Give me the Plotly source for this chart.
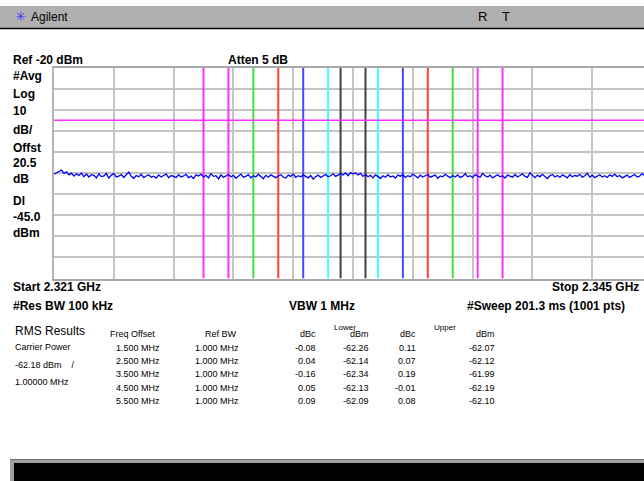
import plotly.graph_objects as go

W, H = 644, 481

# ---------------- data ----------------
start_mhz = 2321.0
stop_mhz = 2345.0
ref_level = -20.0
db_per_div = 10.0
display_line = -45.0
center_mhz = 2333.0

# trace (dBm), 241 points from start to stop
trace_dbm = [
    -70.6, -70.0, -69.4, -68.6, -70.2, -69.5, -70.9, -70.1, -71.5, -70.4,
    -71.2, -70.0, -71.8, -70.5, -71.9, -70.8, -71.1, -72.3, -70.4, -71.7,
    -71.4, -70.2, -72.4, -71.0, -70.3, -71.9, -71.5, -70.7, -72.1, -70.9,
    -69.6, -71.6, -72.5, -71.2, -71.8, -70.6, -72.2, -71.4, -70.8, -72.0,
    -71.5, -72.4, -70.9, -71.9, -71.3, -70.4, -72.3, -71.2, -71.6, -72.1,
    -70.8, -71.9, -71.4, -70.6, -72.2, -71.5, -72.6, -70.9, -71.4, -70.5,
    -71.9, -71.1, -72.3, -70.3, -71.6, -71.3, -72.8, -70.9, -72.1, -71.5,
    -70.7, -71.8, -71.1, -72.5, -71.4, -70.5, -72.0, -71.6, -70.8, -72.3,
    -71.3, -71.9, -70.6, -71.5, -72.7, -71.1, -72.0, -70.9, -71.6, -72.2,
    -71.4, -70.8, -71.9, -72.4, -71.0, -71.6, -70.5, -72.1, -71.3, -71.8,
    -70.9, -71.5, -72.3, -71.2, -72.9, -71.8, -71.0, -72.1, -71.5, -70.7,
    -71.8, -71.3, -70.4, -71.6, -71.0, -70.2, -70.9, -70.0, -71.3, -69.8,
    -70.5, -69.9, -70.9, -70.2, -71.6, -70.6, -71.8, -71.1, -72.3, -70.9,
    -71.6, -72.6, -71.3, -72.0, -70.8, -71.9, -71.4, -72.4, -71.0, -71.5,
    -70.8, -72.1, -71.3, -71.8, -70.5, -71.6, -72.3, -71.0, -71.9, -71.3,
    -70.7, -72.0, -71.5, -71.0, -72.5, -71.4, -71.8, -70.6, -71.5, -72.2,
    -71.2, -71.9, -70.9, -72.1, -71.6, -70.3, -71.8, -71.3, -72.2, -70.8,
    -71.5, -72.0, -70.2, -71.3, -71.9, -71.0, -72.3, -71.6, -70.8, -71.8,
    -71.3, -72.4, -71.0, -71.5, -72.0, -70.7, -71.9, -71.2, -70.4, -71.6,
    -72.1, -69.9, -71.3, -72.2, -71.0, -71.8, -70.6, -71.4, -72.6, -71.3,
    -70.7, -71.9, -71.2, -72.1, -70.9, -71.5, -72.3, -70.8, -71.8, -71.2,
    -71.5, -70.6, -72.0, -71.3, -70.1, -71.9, -71.0, -72.2, -71.4, -70.8,
    -71.9, -71.3, -72.1, -70.9, -71.6, -70.5, -71.8, -71.2, -72.3, -71.6,
    -71.0, -72.1, -71.4, -70.7, -71.9, -71.5, -70.3, -71.4, -70.9, -70.2,
    -70.6,
]

# marker edges (MHz offset from centre) and their colours
edge_offsets = [0.5, 1.0, 2.0, 3.0, 4.0, 5.0, 6.0]
edge_colors = ["#404040", "#40ffff", "#4848ff", "#ff4040", "#40e040", "#ff30ff", "#ff30ff"]

# RMS results table
freq_offsets = ["1.500 MHz", "2.500 MHz", "3.500 MHz", "4.500 MHz", "5.500 MHz"]
ref_bw = ["1.000 MHz", "1.000 MHz", "1.000 MHz", "1.000 MHz", "1.000 MHz"]
lower_dbc = [-0.08, 0.04, -0.16, 0.05, 0.09]
lower_dbm = [-62.26, -62.14, -62.34, -62.13, -62.09]
upper_dbc = [0.11, 0.07, 0.19, -0.01, 0.08]
upper_dbm = [-62.07, -62.12, -61.99, -62.19, -62.10]

left_labels = ["#Avg", "Log", "10", "dB/", "Offst", "20.5", "dB", "Dl", "-45.0", "dBm"]

# ---------------- geometry helpers ----------------
def px(x):
    return x / W

def py(y):
    return 1 - y / H

plot_left, plot_top, plot_bottom = 54, 67.5, 278.5
px_per_mhz = 24.92
x_max = start_mhz + (W - plot_left) / px_per_mhz
y_min = ref_level - 10 * db_per_div

n = len(trace_dbm)
step = (stop_mhz - start_mhz) / (n - 1)
freqs = [start_mhz + i * step for i in range(n)]

FONT = "Arial, Liberation Sans, sans-serif"

fig = go.Figure()

# marker lines (drawn below the trace)
for off, col in zip(edge_offsets, edge_colors):
    for sgn in (-1, 1):
        f = center_mhz + sgn * off
        fig.add_trace(go.Scatter(x=[f, f], y=[y_min, ref_level], mode="lines",
                                 line=dict(color=col, width=2), hoverinfo="skip",
                                 showlegend=False))

# display line
fig.add_trace(go.Scatter(x=[start_mhz, x_max], y=[display_line, display_line], mode="lines",
                         line=dict(color="#ff30ff", width=1.5), hoverinfo="skip", showlegend=False))

# trace
fig.add_trace(go.Scatter(x=freqs, y=trace_dbm, mode="lines",
                         line=dict(color="#0000ff", width=1.3), showlegend=False))

shapes = []
# header bar
shapes.append(dict(type="rect", xref="paper", yref="paper", x0=0, x1=1, y0=py(28), y1=py(6),
                   fillcolor="#b0b0b0", line=dict(width=0), layer="below"))
shapes.append(dict(type="line", xref="paper", yref="paper", x0=0, x1=1, y0=py(28.5), y1=py(28.5),
                   line=dict(color="#000000", width=1.5)))
# bottom box
shapes.append(dict(type="rect", xref="paper", yref="paper", x0=px(10), x1=1, y0=0, y1=py(459),
                   fillcolor="#a0a0a0", line=dict(width=0)))
shapes.append(dict(type="line", xref="paper", yref="paper", x0=px(10), x1=1, y0=py(459.5), y1=py(459.5),
                   line=dict(color="#707070", width=1)))
shapes.append(dict(type="rect", xref="paper", yref="paper", x0=px(14), x1=1, y0=0, y1=py(463),
                   fillcolor="#000000", line=dict(width=0)))

annotations = []

def txt(x, y, s, size=12, bold=False, anchor="left", color="#000000"):
    if bold:
        s = "<b>" + s + "</b>"
    annotations.append(dict(x=px(x), y=py(y), xref="paper", yref="paper", text=s, showarrow=False,
                            xanchor=anchor, yanchor="middle",
                            font=dict(family=FONT, size=size, color=color)))

# header
txt(13, 17, "✳", size=13, color="#3c3cff")
txt(29, 17, "Agilent", size=12)
txt(476, 17, "R", size=13, anchor="left")
txt(500, 17, "T", size=13, anchor="left")

# top labels
txt(11, 60, "Ref -20 dBm", size=12, bold=True)
txt(226, 60, "Atten 5 dB", size=12, bold=True)
left_y = [76, 94, 111, 130, 148, 163, 179, 201, 217, 233]
for lab, yy in zip(left_labels, left_y):
    txt(11, yy, lab, size=12, bold=True)

# bottom labels
txt(11, 287, "Start 2.321 GHz", size=12, bold=True)
txt(641, 287, "Stop 2.345 GHz", size=12, bold=True, anchor="right")
txt(11, 306, "#Res BW 100 kHz", size=12, bold=True)
txt(322, 306, "VBW 1 MHz", size=12, bold=True, anchor="center")
txt(627, 306, "#Sweep 201.3 ms (1001 pts)", size=12, bold=True, anchor="right")

# RMS results block
txt(13, 331, "RMS Results", size=12)
txt(13, 347, "Carrier Power", size=9)
txt(13, 365, "-62.18 dBm    /", size=9)
txt(13, 382, "1.00000 MHz", size=9)

hdr_y = 334
txt(108, hdr_y, "Freq Offset", size=9)
txt(203, hdr_y, "Ref BW", size=9)
txt(318, hdr_y, "dBc", size=9, anchor="right")
txt(332, 327, "Lower", size=8)
txt(371, hdr_y, "dBm", size=9, anchor="right")
txt(418, hdr_y, "dBc", size=9, anchor="right")
txt(432, 327, "Upper", size=8)
txt(497, hdr_y, "dBm", size=9, anchor="right")

row_y = [348, 361, 374, 388, 401]
for i, yy in enumerate(row_y):
    txt(162, yy, freq_offsets[i], size=9, anchor="right")
    txt(241, yy, ref_bw[i], size=9, anchor="right")
    txt(318, yy, f"{lower_dbc[i]:.2f}", size=9, anchor="right")
    txt(371, yy, f"{lower_dbm[i]:.2f}", size=9, anchor="right")
    txt(418, yy, f"{upper_dbc[i]:.2f}", size=9, anchor="right")
    txt(497, yy, f"{upper_dbm[i]:.2f}", size=9, anchor="right")

fig.update_layout(
    width=W, height=H,
    margin=dict(l=0, r=0, t=0, b=0),
    paper_bgcolor="#ffffff", plot_bgcolor="#ffffff",
    shapes=shapes, annotations=annotations,
    showlegend=False,
    xaxis=dict(domain=[px(plot_left), 1], range=[start_mhz, x_max], tick0=start_mhz, dtick=2.4,
               tickmode="linear", showgrid=True, gridcolor="#c4c4c4", gridwidth=1.5,
               showticklabels=False, ticks="", zeroline=False,
               showline=True, linecolor="#a8a8a8", linewidth=2, mirror=True),
    yaxis=dict(domain=[py(plot_bottom), py(plot_top)], range=[y_min, ref_level], tick0=y_min, dtick=10,
               tickmode="linear", showgrid=True, gridcolor="#c4c4c4", gridwidth=1.5,
               showticklabels=False, ticks="", zeroline=False,
               showline=True, linecolor="#b4b4b4", linewidth=1.5),
)

fig.write_html("out.html", config={"displayModeBar": False},
               post_script="document.body.style.margin='0';document.body.style.overflow='hidden';")
